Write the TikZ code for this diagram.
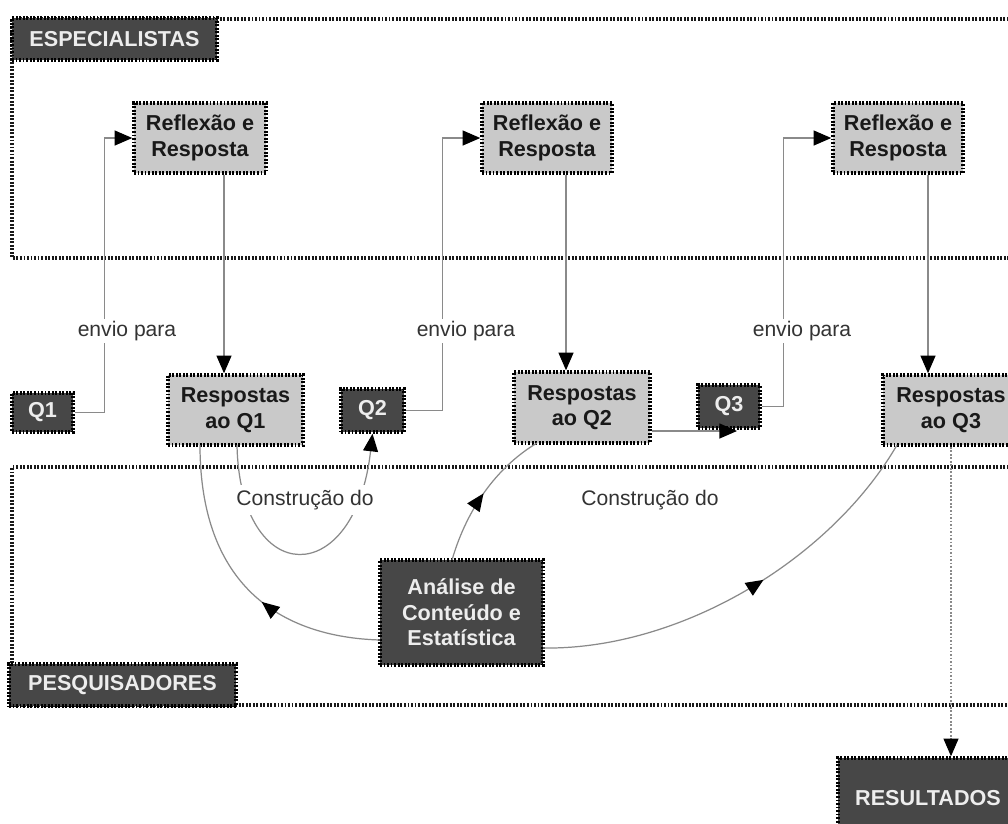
\documentclass[tikz,border=0pt]{standalone}
\usepackage{fontspec}
\setmainfont{Liberation Sans}
\usetikzlibrary{arrows.meta,decorations.markings}
\definecolor{darkbox}{HTML}{474747}
\definecolor{lightbox}{HTML}{C9C9C9}
\definecolor{linegray}{HTML}{8A8A8A}
\tikzset{
  x=0.02cm, y=-0.02cm,
  dotborder/.style={draw=black, line width=2pt, dash pattern=on 1.1pt off 0.9pt},
  lane/.style={draw=black!90, line width=1.9pt, dash pattern=on 1.1pt off 0.9pt},
  lightnode/.style={dotborder, fill=lightbox, text=black!90, align=center, inner sep=0pt,
     font=\fontsize{12.3}{14.5}\selectfont\bfseries},
  darknode/.style={dotborder, fill=darkbox, text=white!93!black, align=center, inner sep=0pt,
     font=\fontsize{12.3}{14.5}\selectfont\bfseries},
  lbl/.style={fill=white, inner sep=1.5pt, text=black!80, font=\fontsize{12}{14}\selectfont},
  tip/.style={-{Triangle[length=10pt,width=8.5pt,color=black,fill=black]}},
  conn/.style={draw=linegray, line width=0.7pt, tip},
  midarrow/.style={draw=linegray, line width=0.7pt, postaction={decorate},
     decoration={markings, mark=at position #1 with {\arrow{Triangle[length=10pt,width=8.5pt,color=black,fill=black]}}}},
}
\begin{document}
\begin{tikzpicture}
\clip (0,0) rectangle (1008,823);
\fill[white] (0,0) rectangle (1008,823);

% lanes
\draw[lane] (1030,19) -- (12,19) -- (12,258) -- (1030,258);
\draw[lane] (1030,467) -- (12,467) -- (12,705) -- (1030,705);

% lane labels
\node[darknode, minimum width=4.1cm, minimum height=0.84cm] (esp) at (114.5,39) {ESPECIALISTAS};
\node[darknode, minimum width=4.54cm, minimum height=0.84cm] (pesq) at (122.5,685) {PESQUISADORES};

% specialist boxes
\node[lightnode, minimum width=2.64cm, minimum height=1.4cm] (R1) at (200,138) {Reflexão e\\Resposta};
\node[lightnode, minimum width=2.6cm, minimum height=1.4cm] (R2) at (547,138) {Reflexão e\\Resposta};
\node[lightnode, minimum width=2.6cm, minimum height=1.4cm] (R3) at (898,138) {Reflexão e\\Resposta};

% answers
\node[lightnode, minimum width=2.7cm, minimum height=1.4cm] (A1) at (235.5,410) {Respostas\\ao Q1};
\node[lightnode, minimum width=2.72cm, minimum height=1.42cm] (A2) at (582,407.5) {Respostas\\ao Q2};
\node[lightnode, minimum width=2.72cm, minimum height=1.4cm] (A3) at (951,410) {Respostas\\ao Q3};

% questionnaires
\node[darknode, minimum width=1.22cm, minimum height=0.78cm] (Q1) at (42.5,412.5) {Q1};
\node[darknode, minimum width=1.26cm, minimum height=0.86cm] (Q2) at (372.5,410.5) {Q2};
\node[darknode, minimum width=1.24cm, minimum height=0.86cm] (Q3) at (729,406.5) {Q3};

% analysis and results
\node[darknode, minimum width=3.26cm, minimum height=2.1cm] (An) at (461.5,612.5) {Análise de\\Conteúdo e\\Estatística};
\node[darknode, minimum width=3.6cm, minimum height=1.6cm] (Res) at (928,798) {RESULTADOS};

% helper coordinates
\coordinate (x224) at (224,0);
\coordinate (x566) at (566,0);
\coordinate (x928) at (928,0);
\coordinate (y431) at (0,431);
\coordinate (q3tip) at (737,431);

% envio para
\draw[conn] (Q1.east) -- ++(30,0) |- (R1.west);
\draw[conn] (Q2.east) -- ++(37,0) |- (R2.west);
\draw[conn] (Q3.east) -- ++(22,0) |- (R3.west);
\node[lbl] (e1) at (127,331) {envio para};
\node[lbl] (e2) at (466,331) {envio para};
\node[lbl] (e3) at (802,331) {envio para};

% reflexao -> respostas
\draw[conn] (R1.south -| x224) -- (A1.north -| x224);
\draw[conn] (R2.south -| x566) -- (A2.north -| x566);
\draw[conn] (R3.south -| x928) -- (A3.north -| x928);

% respostas Q2 -> Q3
\draw[conn] (A2.east |- y431) -- (q3tip);

% construcao do Q2 loop
\coordinate (a1b) at (237,445);
\draw[conn] (a1b) .. controls (240,590) and (355,590) .. (Q2.south);
\node[lbl, inner sep=3pt] (c1) at (305,500) {Construção do};

% analysis curves
\coordinate (anw) at (380,640);
\coordinate (a1c) at (200,445);
\draw[midarrow=0.42] (anw) .. controls (280,637) and (200,585) .. (a1c);
\coordinate (ann) at (452,560);
\coordinate (a2c) at (537,443);
\draw[midarrow=0.5] (ann) .. controls (468,505) and (500,465) .. (a2c);
\coordinate (ane) at (543,648);
\coordinate (a3c) at (897,445);
\draw[midarrow=0.55] (ane) .. controls (680,650) and (830,560) .. (a3c);
\node[lbl] (c2) at (650,500) {Construção do};

% results
\coordinate (resx) at (951,0);
\draw[draw=linegray, line width=0.6pt, dash pattern=on 1pt off 1pt, tip] (A3.south -| resx) -- (Res.north -| resx);
\end{tikzpicture}
\end{document}
